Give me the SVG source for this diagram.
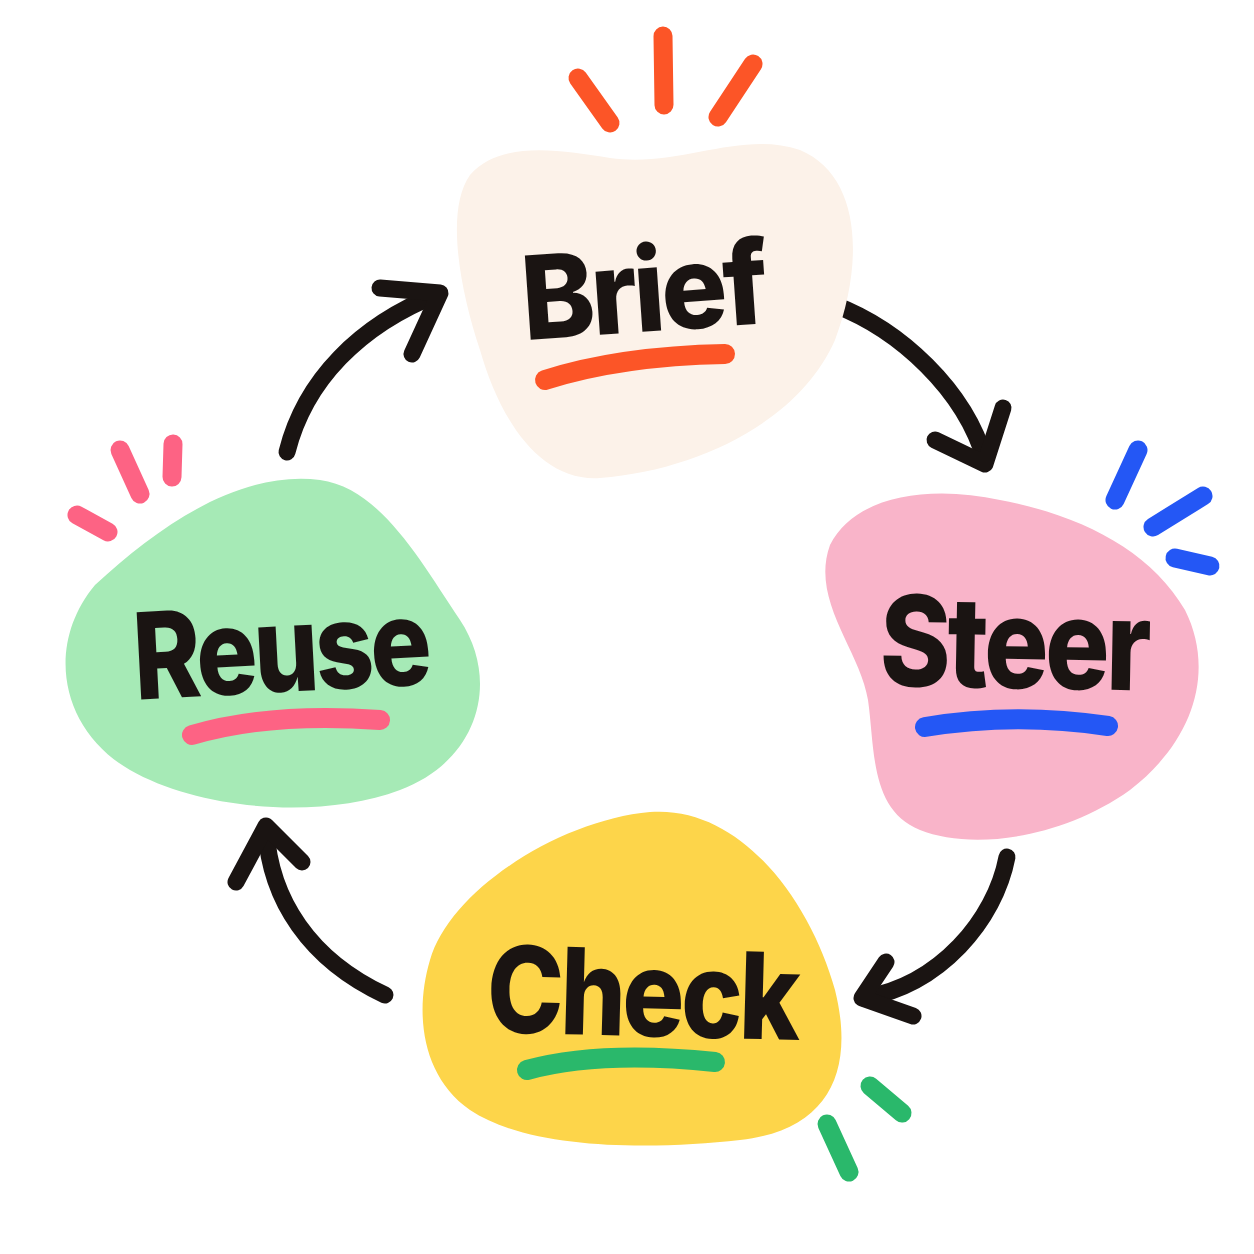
<svg xmlns="http://www.w3.org/2000/svg" width="1254" height="1254" viewBox="0 0 1254 1254">
<style>
.lbl{font-family:Inter,"Open Sans","DejaVu Sans",sans-serif;font-weight:800;fill:#1a1412;letter-spacing:-4px}
.ray{fill:none;stroke-width:19;stroke-linecap:round}
.ul{fill:none;stroke-width:20;stroke-linecap:round}
.arr{fill:none;stroke:#1a1412;stroke-width:17;stroke-linecap:round;stroke-linejoin:round}
</style>
<rect width="1254" height="1254" fill="#ffffff"/>
<g id="connectors">
<path class="arr" d="M835 305 C900 330 965 390 985 460"/>
<path class="arr" d="M935 440 L985 464 L1003 408"/>
<path class="arr" d="M1007 857 C995 920 940 985 864 998"/>
<path class="arr" d="M886 962 L862 998 L913 1016"/>
<path class="arr" d="M385 995 C310 960 270 900 266 830"/>
<path class="arr" d="M236 882 L266 826 L302 862"/>
<path class="arr" d="M287 452 C305 380 360 325 438 294"/>
<path class="arr" d="M380 288 L440 293 L412 354"/>
</g>
<g id="brief">
<path d="M470 175 C500 140 560 150 610 158 C680 168 740 130 800 150 C860 175 865 260 835 340 C800 420 700 470 600 478 C540 482 500 420 480 350 C460 290 445 210 470 175 Z" fill="#fcf2e9"/>
<g stroke="#fc5527" class="ray"><path d="M578 78 L610 123"/><path d="M663 36 L664 105"/><path d="M753 64 L718 117"/></g>
<text class="lbl" x="522" y="332" font-size="116" textLength="243" lengthAdjust="spacingAndGlyphs" transform="rotate(-4 640 300)">Brief</text>
<path class="ul" stroke="#fc5527" d="M545 380 Q620 356 725 354"/>
</g>
<g id="steer">
<path d="M830 545 C855 495 930 485 1000 500 C1080 515 1150 550 1185 610 C1215 670 1195 740 1130 790 C1060 840 970 850 920 830 C870 810 875 750 868 700 C860 650 810 600 830 545 Z" fill="#f9b4c9"/>
<g stroke="#2457f5" class="ray"><path d="M1138 450 L1115 500"/><path d="M1203 496 L1153 527"/><path d="M1175 558 L1210 566"/></g>
<text class="lbl" x="880" y="688" font-size="126" textLength="268" lengthAdjust="spacingAndGlyphs" transform="rotate(1 1010 650)">Steer</text>
<path class="ul" stroke="#2457f5" d="M925 727 Q1015 712 1108 726"/>
</g>
<g id="reuse">
<path d="M95 585 C160 525 240 470 320 480 C380 488 420 560 460 620 C500 680 480 760 400 790 C320 820 200 810 130 770 C60 730 45 645 95 585 Z" fill="#a6eab6"/>
<g stroke="#fd6384" class="ray"><path d="M120 450 L140 494"/><path d="M173 444 L172 477"/><path d="M77 515 L108 532"/></g>
<text class="lbl" x="133" y="692" font-size="120" textLength="295" lengthAdjust="spacingAndGlyphs" transform="rotate(-3 280 650)">Reuse</text>
<path class="ul" stroke="#fd6384" d="M192 735 Q270 712 380 720"/>
</g>
<g id="check">
<path d="M430 960 C450 890 560 820 650 812 C740 805 810 900 835 990 C855 1070 830 1130 740 1140 C650 1150 530 1150 470 1110 C420 1075 415 1010 430 960 Z" fill="#fdd54a"/>
<g stroke="#2ab86b" class="ray"><path d="M870 1086 L902 1113"/><path d="M827 1124 L849 1172"/></g>
<text class="lbl" x="487" y="1036" font-size="120" textLength="310" lengthAdjust="spacingAndGlyphs" transform="rotate(1.5 640 1000)">Check</text>
<path class="ul" stroke="#2ab86b" d="M527 1070 Q600 1050 715 1062"/>
</g>
</svg>
